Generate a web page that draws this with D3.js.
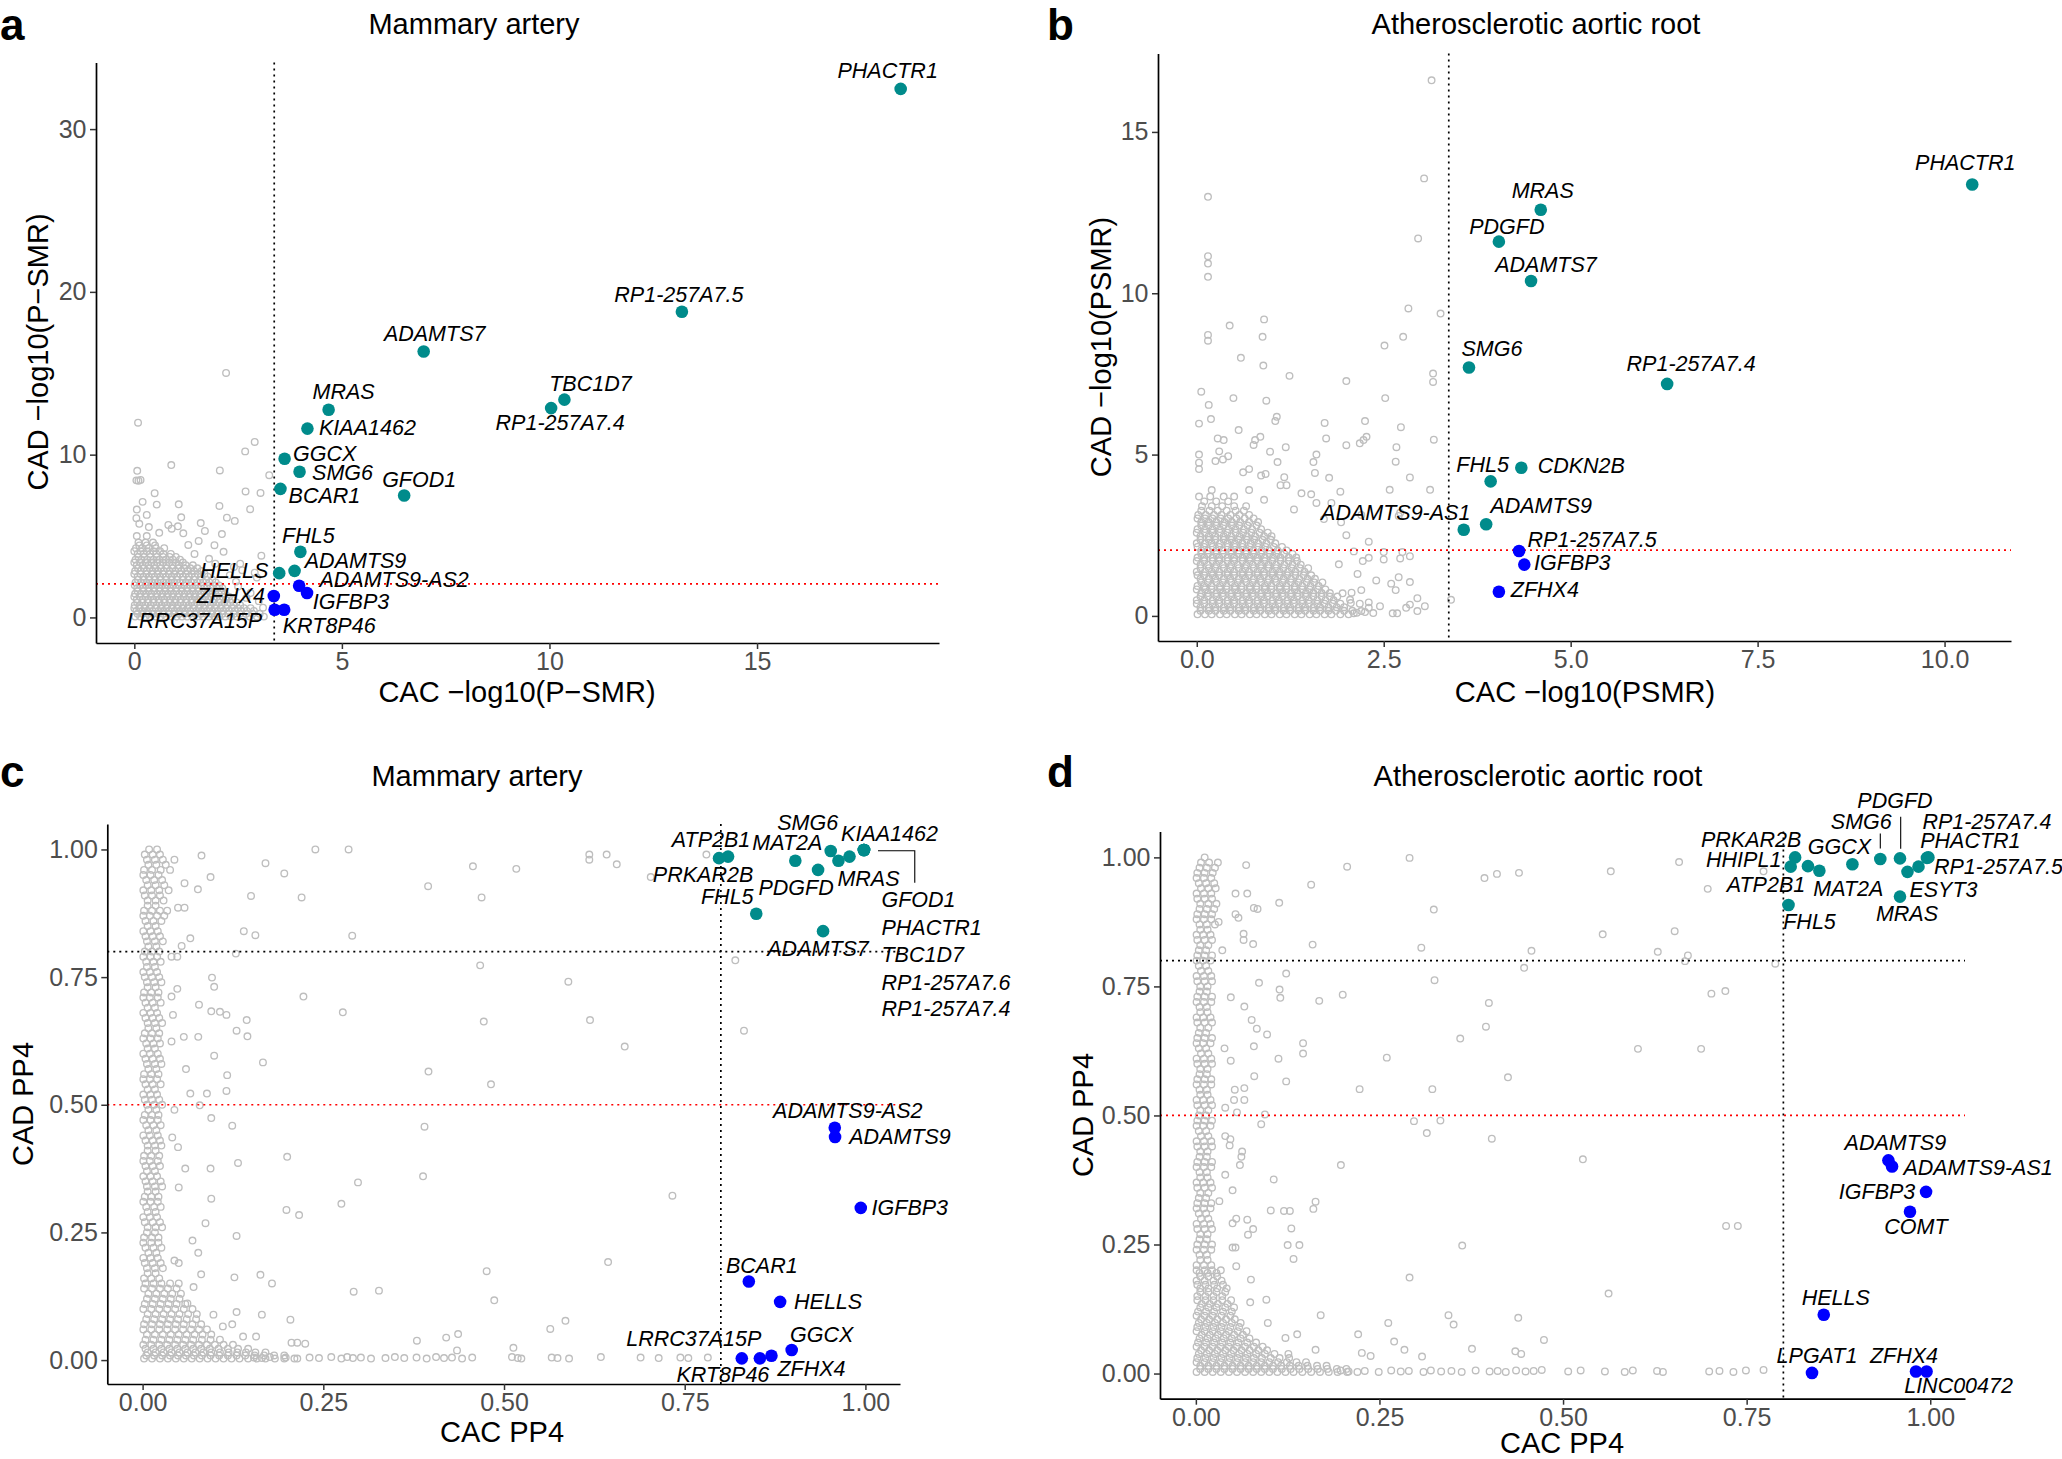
<!DOCTYPE html>
<html><head><meta charset="utf-8">
<script src="https://cdn.jsdelivr.net/npm/d3@7"></script>
<style>
body{margin:0;background:#fff}
svg{display:block;font-family:"Liberation Sans",Arial,Helvetica,sans-serif}
</style></head>
<body><svg id="chart" width="2062" height="1459"></svg>
<script>
// ---------------- DATA ----------------
// Highlighted genes: [gene, x, y, group]  group: "both" (teal) / "cac" (blue)
const hitsA = [
 ["PHACTR1",18.46,32.47,"both"],["RP1-257A7.5",13.19,18.78,"both"],["ADAMTS7",6.97,16.34,"both"],
 ["TBC1D7",10.36,13.38,"both"],["RP1-257A7.4",10.04,12.86,"both"],["MRAS",4.68,12.76,"both"],
 ["KIAA1462",4.17,11.6,"both"],["GGCX",3.62,9.75,"both"],["SMG6",3.98,8.95,"both"],
 ["BCAR1",3.52,7.9,"both"],["GFOD1",6.5,7.49,"both"],["FHL5",4.0,4.03,"both"],
 ["ADAMTS9",3.86,2.86,"both"],["HELLS",3.49,2.72,"both"],["ADAMTS9-AS2",3.97,1.95,"cac"],
 ["IGFBP3",4.16,1.5,"cac"],["ZFHX4",3.36,1.32,"cac"],["LRRC37A15P",3.38,0.47,"cac"],["KRT8P46",3.61,0.47,"cac"]
];
const hitsB = [
 ["PHACTR1",10.37,13.37,"both"],["MRAS",4.6,12.59,"both"],["PDGFD",4.04,11.6,"both"],
 ["ADAMTS7",4.47,10.38,"both"],["SMG6",3.64,7.7,"both"],["RP1-257A7.4",6.29,7.19,"both"],
 ["CDKN2B",4.34,4.59,"both"],["FHL5",3.93,4.17,"both"],["ADAMTS9",3.87,2.84,"both"],
 ["ADAMTS9-AS1",3.57,2.67,"both"],["RP1-257A7.5",4.31,2.01,"cac"],["IGFBP3",4.38,1.59,"cac"],["ZFHX4",4.04,0.75,"cac"]
];
const hitsC = [
 ["ATP2B1",0.81,0.986,"both"],["PRKAR2B",0.7975,0.983,"both"],["MAT2A",0.903,0.978,"both"],
 ["PDGFD",0.9345,0.96,"both"],["SMG6",0.952,0.997,"both"],["MRAS",0.9627,0.978,"both"],
 ["KIAA1462",0.978,0.986,"both"],["GFOD1",0.998,0.999,"both"],["PHACTR1",0.998,0.999,"both"],
 ["TBC1D7",0.998,0.999,"both"],["RP1-257A7.6",0.998,0.999,"both"],["RP1-257A7.4",0.998,0.999,"both"],
 ["FHL5",0.849,0.874,"both"],["ADAMTS7",0.9414,0.84,"both"],
 ["ADAMTS9-AS2",0.9576,0.455,"cac"],["ADAMTS9",0.958,0.437,"cac"],["IGFBP3",0.9936,0.298,"cac"],
 ["BCAR1",0.8387,0.154,"cac"],["HELLS",0.882,0.114,"cac"],["GGCX",0.898,0.0198,"cac"],
 ["LRRC37A15P",0.829,0.0034,"cac"],["KRT8P46",0.854,0.0034,"cac"],["ZFHX4",0.870,0.0086,"cac"]
];
const hitsD = [
 ["PRKAR2B",0.816,1.0,"both"],["HHIPL1",0.81,0.982,"both"],["ATP2B1",0.8335,0.983,"both"],
 ["MAT2A",0.849,0.974,"both"],["GGCX",0.894,0.9866,"both"],["SMG6",0.932,0.997,"both"],
 ["PDGFD",0.9588,0.998,"both"],["ESYT3",0.969,0.972,"both"],["RP1-257A7.5",0.984,0.982,"both"],
 ["PHACTR1",0.9975,1.0,"both"],["RP1-257A7.4",0.9955,0.999,"both"],["MRAS",0.9588,0.924,"both"],
 ["FHL5",0.807,0.9077,"both"],
 ["ADAMTS9",0.943,0.413,"cac"],["ADAMTS9-AS1",0.948,0.401,"cac"],["IGFBP3",0.9943,0.352,"cac"],
 ["COMT",0.9724,0.3135,"cac"],["HELLS",0.855,0.114,"cac"],["LPGAT1",0.839,0.0012,"cac"],
 ["ZFHX4",0.9806,0.004,"cac"],["LINC00472",0.995,0.004,"cac"]
];

// Background (gray) genes: scattered points [x,y]
const grayA = [
 [2.21,15.02],[0.09,11.96],[2.9,10.78],[2.67,10.2],[0.89,9.36],[0.07,9.01],[0.05,8.42],[0.1,8.4],[0.15,8.45],
 [2.06,9.03],[3.25,8.74],[0.49,7.63],[2.68,7.74],[3.04,7.65],[0.54,6.93],[1.07,6.95],[2.05,6.85],[2.79,6.65],
 [0.06,6.63],[1.13,6.15],[2.23,6.13],[2.42,5.93],[0.05,6.1],[0.12,5.75],[0.35,5.55],[0.82,5.68],[1.05,5.6],
 [0.9,5.45],[1.7,5.31],[1.18,5.17],[2.11,5.12],[1.93,4.44],[2.15,4.03],[3.06,3.79],[2.9,2.75],[2.95,2.45],
 [1.55,4.7],[1.3,4.45],[0.6,5.2],[1.45,3.9],[1.8,3.6],[2.4,3.1],[2.6,2.9],[2.5,1.9],[2.8,1.5],[3.0,1.0],
 [3.1,0.6],[2.55,3.3],[0.3,6.3],[0.2,7.1],[1.6,5.8],[2.3,2.6],[2.7,1.2],[2.45,2.2],[1.95,3.3]
];
// Dense core, one row per y level: [y, x1, x2, ...]
const coreA = [
 [0.05,0.02,0.14,0.27,0.38,0.52,0.63,0.77,0.9,1.02,1.15,1.27,1.41,1.53,1.66,1.8,1.93,2.05,2.19,2.33,2.47,2.62,2.78,2.95,3.12],
 [0.22,0.08,0.2,0.33,0.45,0.57,0.7,0.83,0.96,1.08,1.21,1.34,1.47,1.6,1.73,1.86,1.99,2.12,2.26,2.4,2.54,2.69,2.85,3.02],
 [0.4,0.05,0.19,0.31,0.44,0.58,0.7,0.83,0.97,1.09,1.22,1.35,1.49,1.61,1.75,1.88,2.01,2.14,2.28,2.42,2.57,2.71,2.88],
 [0.57,0.0,0.12,0.25,0.37,0.51,0.64,0.77,0.9,1.03,1.16,1.28,1.42,1.55,1.68,1.81,1.94,2.08,2.21,2.35,2.49,2.64,2.8],
 [0.75,0.01,0.13,0.26,0.4,0.53,0.66,0.79,0.92,1.05,1.18,1.31,1.44,1.58,1.7,1.84,1.97,2.1,2.24,2.39,2.55],
 [0.92,0.07,0.19,0.33,0.46,0.6,0.73,0.86,0.98,1.11,1.25,1.38,1.51,1.64,1.77,1.9,2.04,2.17,2.31,2.46],
 [1.1,0.06,0.2,0.33,0.46,0.59,0.72,0.86,0.99,1.12,1.25,1.39,1.51,1.65,1.78,1.92,2.06,2.2,2.36],
 [1.27,0.0,0.13,0.27,0.4,0.53,0.66,0.79,0.92,1.05,1.19,1.32,1.45,1.58,1.71,1.85,1.99,2.13,2.28],
 [1.45,0.02,0.15,0.28,0.41,0.55,0.68,0.81,0.94,1.08,1.21,1.34,1.47,1.6,1.74,1.88,2.03,2.18],
 [1.62,0.08,0.22,0.35,0.48,0.61,0.75,0.88,1.01,1.14,1.28,1.41,1.54,1.67,1.81,1.95,2.1],
 [1.8,0.07,0.21,0.34,0.47,0.6,0.74,0.87,1.0,1.14,1.27,1.4,1.54,1.68,1.83,1.99,2.12],
 [1.97,0.01,0.14,0.28,0.41,0.54,0.67,0.8,0.94,1.07,1.2,1.34,1.47,1.61,1.75,1.9,2.04],
 [2.15,0.03,0.16,0.29,0.43,0.56,0.7,0.83,0.96,1.1,1.24,1.37,1.52,1.66,1.81,1.96],
 [2.32,0.09,0.23,0.36,0.5,0.63,0.77,0.9,1.03,1.17,1.3,1.44,1.59,1.73,1.88],
 [2.5,0.08,0.22,0.35,0.49,0.62,0.76,0.9,1.03,1.17,1.31,1.46,1.6,1.77],
 [2.67,0.0,0.15,0.29,0.42,0.56,0.69,0.83,0.96,1.1,1.24,1.38,1.53,1.69],
 [2.85,0.02,0.15,0.3,0.44,0.57,0.71,0.85,0.99,1.13,1.28,1.44,1.62],
 [3.02,0.09,0.23,0.37,0.51,0.64,0.78,0.92,1.06,1.2,1.35,1.52],
 [3.2,0.06,0.2,0.34,0.48,0.63,0.77,0.92,1.07,1.24,1.41],
 [3.37,0.0,0.14,0.27,0.41,0.55,0.69,0.84,1.0,1.17],
 [3.55,0.03,0.17,0.31,0.46,0.6,0.76,0.93,1.1],
 [3.72,0.1,0.24,0.39,0.54,0.69,0.85,1.0],
 [3.9,0.08,0.22,0.38,0.53,0.7,0.88],
 [4.07,0.0,0.15,0.3,0.46,0.62],
 [4.25,0.04,0.19,0.35,0.52,0.72],
 [4.42,0.12,0.3,0.5],
 [4.6,0.1,0.27,0.45],
 [5.0,0.06,0.3]
];
const grayB = [
 [3.14,16.6],[3.04,13.56],[2.96,11.7],[0.15,12.99],[0.15,11.15],[0.15,10.92],[0.15,10.51],[2.83,9.53],[3.26,9.37],
 [0.44,9.0],[0.9,9.19],[0.15,8.71],[0.15,8.53],[0.88,8.65],[2.76,8.65],[2.51,8.38],[0.59,8.0],[0.89,7.76],
 [1.24,7.44],[2.0,7.28],[3.16,7.51],[3.16,7.25],[0.06,6.95],[0.49,6.75],[0.93,6.67],[0.16,6.54],[2.52,6.75],
 [1.07,6.17],[1.05,6.04],[0.19,6.1],[0.03,5.96],[1.71,5.98],[2.25,6.04],[2.73,5.85],[0.56,5.76],[0.85,5.55],
 [0.78,5.45],[0.76,5.3],[1.73,5.5],[0.28,5.5],[0.36,5.45],[2.0,5.29],[2.18,5.35],[2.23,5.45],[2.27,5.55],
 [3.17,5.46],[2.67,5.23],[1.19,5.23],[0.98,5.09],[0.3,5.1],[0.42,4.95],[0.35,4.85],[0.25,4.8],[0.03,5.0],
 [0.03,4.75],[0.03,4.55],[1.6,5.0],[1.56,4.77],[2.66,4.78],[1.08,4.77],[0.7,4.55],[0.92,4.4],[0.86,4.35],
 [0.62,4.45],[1.58,4.43],[1.77,4.28],[1.17,4.3],[1.12,4.05],[1.2,4.05],[2.85,4.29],[2.58,3.91],[3.12,3.91],
 [1.53,3.77],[1.92,3.85],[2.2,3.13],[2.7,3.1],[2.72,3.2],[1.8,3.5],[1.93,2.9],[2.5,1.98],[2.75,1.98],[2.85,1.85],
 [2.22,1.7],[2.3,1.8],[2.5,1.75],[2.72,1.78],[2.6,1.0],[2.7,1.2],[2.85,1.05],[2.66,0.8],[2.95,0.55],[2.85,0.35],
 [3.05,0.3],[2.8,0.25],[2.95,0.15],[3.4,0.5],[2.45,0.3],[2.3,0.25],[2.2,0.15],[2.1,0.08],[2.62,0.08],[2.68,0.08],
 [1.4,3.8],[1.6,3.5],[1.3,3.3],[1.7,3.0],[2.0,2.5],[2.3,2.3],[2.1,2.0],[1.9,1.6],[2.15,1.3],[2.4,1.1],[2.2,0.8],
 [2.05,0.5],[0.9,3.6],[0.5,3.7],[0.2,3.9],[0.7,3.9],[2.14,0.1],[2.25,0.12],[2.36,0.09],[2.06,0.4],[2.18,0.38],
 [2.3,0.42],[1.95,0.7],[2.07,0.72]
];
const coreB = [
 [0.05,0.01,0.11,0.2,0.31,0.4,0.51,0.6,0.71,0.8,0.91,1.0,1.11,1.2,1.31,1.4,1.51,1.6,1.71,1.8,1.92,2.03],
 [0.16,0.05,0.16,0.25,0.36,0.45,0.56,0.65,0.76,0.85,0.96,1.05,1.16,1.25,1.36,1.45,1.56,1.65,1.76,1.86,1.97,2.08],
 [0.27,0.05,0.16,0.25,0.36,0.45,0.56,0.65,0.76,0.85,0.96,1.05,1.16,1.25,1.36,1.45,1.56,1.65,1.76,1.87,1.97],
 [0.38,0.0,0.1,0.21,0.3,0.41,0.5,0.61,0.7,0.81,0.9,1.01,1.1,1.21,1.3,1.41,1.5,1.61,1.71,1.82,1.92],
 [0.49,0.0,0.1,0.21,0.3,0.41,0.5,0.61,0.7,0.81,0.9,1.01,1.1,1.21,1.3,1.41,1.5,1.61,1.72,1.83],
 [0.6,0.05,0.15,0.26,0.35,0.46,0.55,0.66,0.75,0.86,0.95,1.06,1.15,1.26,1.35,1.46,1.56,1.67,1.78,1.88],
 [0.71,0.06,0.15,0.26,0.35,0.46,0.55,0.66,0.75,0.86,0.95,1.06,1.15,1.26,1.35,1.46,1.56,1.67,1.78],
 [0.82,0.0,0.11,0.2,0.31,0.4,0.51,0.6,0.71,0.8,0.91,1.0,1.11,1.2,1.31,1.41,1.51,1.62,1.72],
 [0.93,0.01,0.1,0.2,0.31,0.4,0.51,0.6,0.71,0.8,0.91,1.0,1.11,1.2,1.31,1.41,1.52,1.63],
 [1.04,0.06,0.15,0.26,0.35,0.46,0.55,0.66,0.75,0.86,0.95,1.06,1.15,1.26,1.36,1.47,1.57,1.68],
 [1.15,0.05,0.16,0.25,0.36,0.45,0.56,0.65,0.76,0.85,0.96,1.05,1.16,1.26,1.37,1.48,1.58],
 [1.26,0.01,0.1,0.21,0.3,0.41,0.5,0.61,0.7,0.81,0.9,1.01,1.11,1.21,1.32,1.43,1.53],
 [1.37,0.0,0.11,0.2,0.3,0.41,0.5,0.61,0.7,0.81,0.9,1.01,1.11,1.22,1.32,1.44],
 [1.48,0.05,0.16,0.25,0.36,0.45,0.56,0.65,0.76,0.86,0.96,1.06,1.16,1.27,1.38,1.49],
 [1.59,0.05,0.15,0.26,0.35,0.46,0.55,0.66,0.75,0.86,0.96,1.06,1.17,1.28,1.39],
 [1.7,0.0,0.1,0.21,0.3,0.41,0.5,0.61,0.71,0.81,0.91,1.01,1.12,1.23,1.34],
 [1.81,0.01,0.1,0.21,0.3,0.41,0.5,0.61,0.71,0.81,0.91,1.02,1.12,1.23,1.33],
 [1.92,0.06,0.15,0.26,0.35,0.46,0.56,0.66,0.76,0.86,0.97,1.07,1.17,1.28],
 [2.03,0.06,0.15,0.26,0.35,0.46,0.56,0.66,0.76,0.87,0.97,1.08,1.2],
 [2.14,0.01,0.1,0.21,0.3,0.41,0.51,0.61,0.71,0.82,0.92,1.03,1.14],
 [2.25,0.0,0.11,0.2,0.31,0.41,0.51,0.61,0.72,0.82,0.93,1.05],
 [2.36,0.05,0.16,0.25,0.36,0.46,0.56,0.67,0.77,0.88,0.99],
 [2.47,0.05,0.16,0.25,0.36,0.46,0.57,0.67,0.78,0.9,1.0],
 [2.58,0.0,0.11,0.21,0.31,0.41,0.52,0.62,0.73,0.84,0.95],
 [2.69,0.01,0.11,0.21,0.31,0.42,0.52,0.63,0.74,0.86],
 [2.8,0.06,0.16,0.26,0.36,0.47,0.57,0.68,0.8],
 [2.91,0.06,0.16,0.26,0.37,0.47,0.58,0.7,0.82],
 [3.02,0.01,0.11,0.21,0.32,0.42,0.53,0.64,0.76],
 [3.13,0.02,0.12,0.23,0.33,0.45,0.57,0.7],
 [3.26,0.06,0.17,0.28,0.4,0.52,0.63],
 [3.4,0.07,0.2,0.34,0.5,0.66],
 [3.55,0.1,0.26,0.42],
 [3.7,0.03,0.18,0.36]
];
const grayC = [
 [0.239,1.0],[0.285,1.0],[0.0815,0.988],[0.044,0.98],[0.17,0.973],[0.196,0.953],[0.094,0.946],[0.058,0.934],
 [0.0765,0.922],[0.15,0.909],[0.22,0.906],[0.049,0.886],[0.058,0.886],[0.14,0.84],[0.156,0.832],[0.29,0.831],
 [0.066,0.826],[0.054,0.811],[0.04,0.79],[0.048,0.79],[0.129,0.796],[0.395,0.928],[0.457,0.967],[0.517,0.962],
 [0.469,0.906],[0.618,0.99],[0.618,0.98],[0.642,0.99],[0.656,0.971],[0.703,0.946],[0.78,0.99],[0.82,0.783],
 [0.467,0.773],[0.589,0.741],[0.096,0.749],[0.099,0.731],[0.048,0.727],[0.04,0.712],[0.2225,0.712],[0.078,0.696],
 [0.095,0.683],[0.107,0.682],[0.116,0.676],[0.042,0.676],[0.277,0.681],[0.144,0.666],[0.472,0.663],[0.619,0.666],
 [0.13,0.645],[0.145,0.634],[0.057,0.633],[0.077,0.633],[0.04,0.624],[0.667,0.614],[0.099,0.596],[0.1665,0.583],
 [0.06,0.57],[0.117,0.558],[0.3955,0.565],[0.482,0.54],[0.066,0.522],[0.089,0.522],[0.116,0.527],[0.832,0.645],
 [0.079,0.499],[0.044,0.49],[0.095,0.474],[0.124,0.459],[0.39,0.457],[0.041,0.436],[0.049,0.417],[0.2,0.398],
 [0.132,0.386],[0.059,0.375],[0.094,0.375],[0.298,0.348],[0.388,0.36],[0.05,0.338],[0.733,0.322],[0.095,0.316],
 [0.275,0.306],[0.199,0.294],[0.2165,0.284],[0.087,0.268],[0.13,0.243],[0.069,0.234],[0.077,0.21],[0.044,0.195],
 [0.05,0.19],[0.644,0.192],[0.081,0.168],[0.127,0.162],[0.163,0.167],[0.179,0.15],[0.0705,0.143],[0.476,0.174],
 [0.292,0.134],[0.327,0.136],[0.4865,0.117],[0.062,0.111],[0.098,0.089],[0.13,0.094],[0.165,0.089],[0.2045,0.079],
 [0.124,0.07],[0.111,0.066],[0.139,0.046],[0.157,0.046],[0.585,0.077],[0.564,0.061],[0.4365,0.051],[0.42,0.044],
 [0.3795,0.038],[0.206,0.034],[0.214,0.034],[0.225,0.032],[0.513,0.024],[0.435,0.019],
 [0.154,0.005],[0.165,0.004],[0.176,0.006],[0.198,0.005],[0.214,0.003],[0.231,0.005],[0.244,0.004],[0.261,0.006],
 [0.275,0.003],[0.283,0.006],[0.291,0.004],[0.302,0.005],[0.316,0.003],[0.336,0.004],[0.349,0.006],[0.362,0.004],
 [0.379,0.005],[0.393,0.003],[0.406,0.006],[0.417,0.004],[0.428,0.005],[0.442,0.003],[0.456,0.005],[0.511,0.006],
 [0.519,0.004],[0.524,0.003],[0.566,0.005],[0.574,0.004],[0.59,0.003],[0.634,0.006],[0.689,0.005],[0.714,0.004],
 [0.744,0.005],[0.755,0.004],[0.782,0.005]
];
const coreC = [
 [0.003,0.002,0.013,0.024,0.035,0.046,0.057,0.068,0.079,0.09,0.101,0.112,0.123,0.134,0.146,0.158,0.17,0.183,0.196,0.21],
 [0.009,0.005,0.016,0.027,0.038,0.049,0.06,0.071,0.082,0.094,0.106,0.118,0.13,0.142,0.155,0.168,0.182,0.196],
 [0.015,0.007,0.018,0.029,0.04,0.051,0.062,0.073,0.084,0.095,0.107,0.119,0.131,0.143,0.156,0.17],
 [0.022,0.004,0.015,0.026,0.037,0.048,0.059,0.07,0.081,0.093,0.105,0.118,0.132,0.146],
 [0.03,0.001,0.012,0.023,0.034,0.045,0.056,0.067,0.078,0.089,0.1,0.112,0.125],
 [0.04,0.004,0.015,0.026,0.037,0.048,0.059,0.07,0.082,0.094,0.107],
 [0.05,0.006,0.017,0.028,0.039,0.05,0.061,0.072,0.083,0.095],
 [0.06,0.001,0.012,0.023,0.034,0.045,0.056,0.067,0.078,0.089],
 [0.07,0.002,0.013,0.024,0.035,0.046,0.057,0.069,0.081],
 [0.08,0.005,0.016,0.027,0.038,0.049,0.061,0.074],
 [0.09,0.007,0.018,0.029,0.04,0.051,0.063,0.075],
 [0.1,0.001,0.012,0.023,0.034,0.045,0.057,0.069],
 [0.11,0.003,0.014,0.025,0.036,0.047,0.059],
 [0.12,0.006,0.017,0.028,0.039,0.051],
 [0.13,0.008,0.019,0.03,0.041,0.053],
 [0.14,0.002,0.013,0.024,0.035,0.047],
 [0.15,0.004,0.015,0.026,0.038,0.05],
 [0.16,0.002,0.012,0.023],[0.17,0.007,0.018],[0.18,0.006,0.017,0.028],[0.19,0.003,0.014,0.025],
 [0.2,0.001,0.011,0.021],[0.21,0.008,0.019],[0.22,0.004,0.015,0.026],[0.23,0.001,0.012,0.022],
 [0.24,0.002,0.013,0.022],[0.25,0.006,0.017],[0.26,0.007,0.018,0.027],[0.27,0.003,0.014,0.024],
 [0.28,0.001,0.01,0.02],[0.29,0.007,0.018],[0.3,0.005,0.016,0.025],[0.31,0.001,0.011,0.021],
 [0.32,0.003,0.012,0.022],[0.33,0.007,0.018],[0.34,0.006,0.017,0.027],[0.35,0.004,0.014,0.025],
 [0.36,0.001,0.011,0.02],[0.37,0.006,0.017],[0.38,0.004,0.014,0.024],[0.39,0.001,0.01,0.021],
 [0.4,0.002,0.012,0.023],[0.41,0.007,0.018],[0.42,0.007,0.017,0.026],[0.43,0.004,0.014,0.024],
 [0.44,0.001,0.01,0.021],[0.45,0.008,0.019],[0.46,0.005,0.015,0.025],[0.47,0.001,0.011,0.021],
 [0.48,0.003,0.013,0.022],[0.49,0.008,0.019],[0.5,0.006,0.016,0.027],[0.51,0.003,0.013,0.023],
 [0.52,0.001,0.011,0.02],[0.53,0.007,0.017],[0.54,0.004,0.014,0.025],[0.55,0.001,0.01,0.02],
 [0.56,0.002,0.012,0.022],[0.57,0.008,0.019],[0.58,0.006,0.017,0.026],[0.59,0.004,0.014,0.024],
 [0.6,0.001,0.01,0.021],[0.61,0.007,0.017],[0.62,0.005,0.015,0.024],[0.63,0.001,0.011,0.021],
 [0.64,0.003,0.013,0.023],[0.65,0.008,0.019],[0.66,0.007,0.017,0.027],[0.67,0.004,0.014,0.023],
 [0.68,0.001,0.011,0.02],[0.69,0.007,0.017],[0.7,0.004,0.014,0.025],[0.71,0.001,0.01,0.021],
 [0.72,0.002,0.012,0.022],[0.73,0.007,0.018],[0.74,0.006,0.016,0.026],[0.75,0.003,0.013,0.023],
 [0.76,0.001,0.01,0.02],[0.77,0.006,0.017],[0.78,0.005,0.015,0.025],[0.79,0.001,0.011,0.02],
 [0.8,0.003,0.013,0.023],[0.81,0.008,0.019],[0.82,0.006,0.017,0.028],[0.83,0.004,0.014,0.024],
 [0.84,0.001,0.011,0.021],[0.85,0.007,0.018],[0.86,0.004,0.015,0.026],[0.87,0.001,0.01,0.02,0.03],
 [0.88,0.002,0.013,0.024,0.034],[0.89,0.007,0.018],[0.9,0.007,0.018,0.029],[0.91,0.003,0.013,0.024],
 [0.92,0.001,0.012,0.023,0.036],[0.93,0.007,0.018,0.03],[0.94,0.005,0.016,0.027],[0.95,0.001,0.011,0.022],
 [0.96,0.002,0.013,0.025,0.038],[0.97,0.008,0.019,0.032],[0.98,0.006,0.017,0.028],[0.99,0.003,0.014,0.024],
 [1.0,0.009,0.02]
];
const grayD = [
 [0.0685,0.985],[0.206,0.982],[0.291,0.999],[0.157,0.947],[0.1135,0.912],[0.054,0.93],[0.07,0.93],[0.079,0.902],
 [0.084,0.9],[0.054,0.89],[0.058,0.883],[0.031,0.875],[0.065,0.852],[0.065,0.84],[0.078,0.832],[0.036,0.82],
 [0.159,0.831],[0.324,0.899],[0.307,0.825],[0.393,0.96],[0.41,0.968],[0.44,0.97],[0.565,0.973],[0.457,0.819],
 [0.447,0.786],[0.554,0.851],[0.652,0.857],[0.629,0.817],[0.658,0.991],[0.67,0.81],[0.666,0.799],[0.697,0.939],
 [0.773,0.973],[0.789,0.794],[0.702,0.736],[0.721,0.741],[0.325,0.762],[0.399,0.718],[0.395,0.672],[0.36,0.649],
 [0.26,0.612],[0.425,0.574],[0.602,0.629],[0.688,0.629],[0.223,0.551],[0.322,0.551],[0.086,0.757],[0.114,0.744],
 [0.115,0.728],[0.168,0.722],[0.2,0.734],[0.123,0.775],[0.0476,0.729],[0.066,0.711],[0.076,0.685],[0.083,0.668],
 [0.097,0.657],[0.146,0.64],[0.146,0.62],[0.079,0.634],[0.1125,0.61],[0.039,0.63],[0.0475,0.606],[0.0795,0.576],
 [0.123,0.566],[0.053,0.55],[0.066,0.553],[0.052,0.53],[0.066,0.53],[0.04,0.515],[0.056,0.506],[0.094,0.502],
 [0.089,0.483],[0.297,0.489],[0.333,0.49],[0.3145,0.466],[0.403,0.455],[0.04,0.46],[0.047,0.454],[0.046,0.442],
 [0.063,0.43],[0.062,0.42],[0.06,0.404],[0.1975,0.404],[0.527,0.415],[0.04,0.385],[0.106,0.376],[0.05,0.355],
 [0.032,0.334],[0.102,0.316],[0.12,0.315],[0.128,0.315],[0.16,0.319],[0.163,0.333],[0.05,0.291],[0.055,0.3],
 [0.07,0.298],[0.071,0.269],[0.078,0.28],[0.13,0.281],[0.722,0.286],[0.738,0.286],[0.125,0.249],[0.141,0.249],
 [0.133,0.222],[0.3627,0.248],[0.05,0.244],[0.054,0.244],[0.055,0.208],[0.075,0.182],[0.291,0.186],[0.096,0.143],
 [0.074,0.138],[0.562,0.155],[0.098,0.098],[0.17,0.113],[0.262,0.098],[0.344,0.113],[0.351,0.095],[0.439,0.108],
 [0.221,0.076],[0.138,0.076],[0.122,0.069],[0.474,0.065],[0.27,0.062],[0.163,0.046],[0.126,0.038],[0.226,0.04],
 [0.238,0.034],[0.284,0.046],[0.308,0.033],[0.376,0.048],[0.435,0.043],[0.443,0.038],
 [0.197,0.006],[0.208,0.004],[0.23,0.005],[0.249,0.003],[0.266,0.006],[0.279,0.004],[0.29,0.005],[0.31,0.003],
 [0.32,0.006],[0.334,0.004],[0.348,0.005],[0.362,0.003],[0.381,0.006],[0.4,0.004],[0.411,0.005],[0.422,0.003],
 [0.436,0.006],[0.449,0.004],[0.46,0.005],[0.471,0.007],[0.507,0.004],[0.524,0.006],[0.557,0.004],[0.584,0.003],
 [0.595,0.006],[0.628,0.005],[0.636,0.003],[0.699,0.004],[0.713,0.005],[0.732,0.003],[0.749,0.006],[0.773,0.007]
];
const coreD = [
 [0.003,0.001,0.012,0.023,0.034,0.045,0.056,0.067,0.078,0.089,0.1,0.111,0.122,0.133,0.145,0.157,0.169,0.181,0.193,0.206,0.22],
 [0.009,0.006,0.017,0.028,0.039,0.05,0.061,0.072,0.083,0.094,0.105,0.117,0.129,0.141,0.153,0.166,0.179,0.192,0.205],
 [0.015,0.006,0.017,0.028,0.039,0.05,0.061,0.072,0.083,0.094,0.105,0.116,0.128,0.14,0.152,0.165,0.178],
 [0.022,0.001,0.012,0.023,0.034,0.045,0.056,0.067,0.078,0.089,0.1,0.112,0.124,0.137,0.15],
 [0.03,0.002,0.013,0.024,0.035,0.046,0.057,0.068,0.079,0.09,0.102,0.114,0.127],
 [0.038,0.004,0.015,0.026,0.037,0.048,0.059,0.07,0.082,0.094,0.107],
 [0.045,0.007,0.018,0.029,0.04,0.051,0.062,0.073,0.085,0.097],
 [0.052,0.001,0.012,0.023,0.034,0.045,0.056,0.067,0.079,0.091],
 [0.06,0.003,0.014,0.025,0.036,0.047,0.058,0.07,0.082],
 [0.068,0.005,0.016,0.027,0.038,0.049,0.061,0.073],
 [0.075,0.008,0.019,0.03,0.041,0.052,0.064],
 [0.082,0.001,0.012,0.023,0.034,0.045,0.057,0.069],
 [0.09,0.002,0.013,0.024,0.035,0.047,0.059],
 [0.098,0.004,0.015,0.026,0.037,0.049,0.061],
 [0.105,0.007,0.018,0.029,0.041,0.053],
 [0.112,0.001,0.012,0.023,0.035,0.047],
 [0.12,0.003,0.014,0.025,0.037,0.049],
 [0.128,0.006,0.017,0.028,0.04,0.052],
 [0.135,0.008,0.019,0.03,0.043],
 [0.142,0.002,0.013,0.024,0.036,0.048],
 [0.15,0.002,0.013,0.024,0.036],
 [0.158,0.006,0.017,0.028,0.04],
 [0.165,0.006,0.017,0.029,0.042],
 [0.172,0.002,0.013,0.025,0.037],
 [0.18,0.001,0.012,0.024,0.035],
 [0.188,0.006,0.017,0.029],
 [0.195,0.005,0.016,0.028],
 [0.2,0.001,0.012,0.022,0.034],
 [0.21,0.001,0.011,0.021],[0.22,0.006,0.016],[0.23,0.005,0.015],[0.24,0.001,0.011,0.021],
 [0.25,0.002,0.012,0.022],[0.26,0.005,0.015],[0.27,0.006,0.016],[0.28,0.002,0.012,0.022],
 [0.29,0.001,0.011,0.02],[0.3,0.007,0.017],[0.31,0.004,0.014],[0.32,0.001,0.011,0.02],
 [0.33,0.002,0.012,0.021],[0.34,0.004,0.014],[0.35,0.006,0.017],[0.36,0.002,0.012,0.022],
 [0.37,0.001,0.01,0.02],[0.38,0.006,0.016],[0.39,0.005,0.015],[0.4,0.001,0.011,0.021],
 [0.41,0.002,0.012,0.022],[0.42,0.005,0.015],[0.43,0.006,0.016],[0.44,0.002,0.012,0.022],
 [0.45,0.001,0.011,0.021],[0.46,0.007,0.017],[0.47,0.004,0.014],[0.48,0.001,0.01,0.02],
 [0.49,0.002,0.012,0.022],[0.5,0.004,0.014],[0.51,0.006,0.017],[0.52,0.002,0.012,0.022],
 [0.53,0.001,0.01,0.02],[0.54,0.006,0.016],[0.55,0.005,0.015],[0.56,0.001,0.011,0.021],
 [0.57,0.002,0.012,0.021],[0.58,0.005,0.015],[0.59,0.006,0.016],[0.6,0.002,0.012,0.022],
 [0.61,0.001,0.011,0.021],[0.62,0.007,0.017],[0.63,0.004,0.014],[0.64,0.001,0.01,0.02],
 [0.65,0.002,0.012,0.022],[0.66,0.004,0.014],[0.67,0.006,0.017],[0.68,0.002,0.012,0.022],
 [0.69,0.001,0.01,0.02],[0.7,0.006,0.016],[0.71,0.005,0.015],[0.72,0.001,0.011,0.021],
 [0.73,0.002,0.012,0.022],[0.74,0.005,0.015],[0.75,0.006,0.016],[0.76,0.002,0.012,0.022],
 [0.77,0.001,0.011,0.021],[0.78,0.007,0.017],[0.79,0.004,0.014],[0.8,0.001,0.01,0.02],
 [0.81,0.002,0.012,0.022],[0.82,0.004,0.014],[0.83,0.006,0.017],[0.84,0.002,0.012,0.022],
 [0.85,0.001,0.01,0.02],[0.86,0.006,0.016],[0.87,0.005,0.015,0.026],[0.88,0.001,0.011,0.021],
 [0.89,0.002,0.012,0.022],[0.9,0.005,0.015,0.025],[0.91,0.006,0.017,0.028],[0.92,0.002,0.012,0.022],
 [0.93,0.001,0.011,0.021],[0.94,0.007,0.017,0.027],[0.95,0.004,0.014,0.025],[0.96,0.001,0.011,0.021],
 [0.97,0.002,0.012,0.023],[0.98,0.005,0.015,0.026],[0.99,0.007,0.018,0.03],[1.0,0.012]
];

// tick values
const ticksAx = [0,5,10,15], ticksAy = [0,10,20,30];
const ticksBx = [0,2.5,5,7.5,10], ticksBy = [0,5,10,15];
const ticksPP = [0,0.25,0.5,0.75,1];

// ---------------- LAYOUT (label nudges in px, relative to point) ----------------
const nudgeA = {"PHACTR1":[-13,-18],"RP1-257A7.5":[-3,-17],"ADAMTS7":[11,-17],"TBC1D7":[26,-16],"RP1-257A7.4":[9,15],
 "MRAS":[15,-18],"KIAA1462":[60,-1],"GGCX":[40,-5],"SMG6":[43,1],"BCAR1":[44,7],"GFOD1":[15,-16],"FHL5":[8,-16],
 "ADAMTS9":[61,-10],"HELLS":[-45,-2],"ADAMTS9-AS2":[95,-6],"IGFBP3":[44,9],"ZFHX4":[-43,0],"LRRC37A15P":[-80,11],"KRT8P46":[45,16]};
const nudgeB = {"PHACTR1":[-7,-22],"MRAS":[2,-19],"PDGFD":[8,-15],"ADAMTS7":[15,-16],"SMG6":[23,-18],"RP1-257A7.4":[24,-20],
 "CDKN2B":[60,-2],"FHL5":[-8,-16],"ADAMTS9":[55,-18],"ADAMTS9-AS1":[-68,-17],"RP1-257A7.5":[73,-11],"IGFBP3":[48,-2],"ZFHX4":[46,-2]};
const nudgeC = {"ATP2B1":[-17,-17],"PRKAR2B":[-16,17],"MAT2A":[-8,-18],"PDGFD":[-22,18],"SMG6":[-23,-28],"MRAS":[30,18],
 "KIAA1462":[40,-23],"GFOD1":[17.5,50.4,"start"],"PHACTR1":[17.5,77.8,"start"],"TBC1D7":[17.5,105.4,"start"],
 "RP1-257A7.6":[17.5,132.8,"start"],"RP1-257A7.4":[17.5,159.4,"start"],"FHL5":[-29,-17],"ADAMTS7":[-5,18],
 "ADAMTS9-AS2":[13,-17],"ADAMTS9":[65,0],"IGFBP3":[49,0],"BCAR1":[13,-15],"HELLS":[48,0],"GGCX":[30,-15],
 "LRRC37A15P":[-48,-19],"KRT8P46":[-37,17],"ZFHX4":[40,13]};
const nudgeD = {"PRKAR2B":[-44,-17],"HHIPL1":[-47,-7],"ATP2B1":[-42,19],"MAT2A":[29,18],"GGCX":[-13,-17],"SMG6":[-19,-37],
 "PDGFD":[-5,-57],"ESYT3":[36,18],"RP1-257A7.5":[80,0],"PHACTR1":[42,-16],"RP1-257A7.4":[60,-36],"MRAS":[7,17],
 "FHL5":[21,17],"ADAMTS9":[7,-17],"ADAMTS9-AS1":[86,1],"IGFBP3":[-49,0],"COMT":[6,15],"HELLS":[12,-17],
 "LPGAT1":[5,-17],"ZFHX4":[-12,-15],"LINC00472":[32,15]};
// leader segments (px offsets from point)
const leadersC = {"GFOD1":[[14,0.8],[50.8,0.8],[50.8,32.8]]};
const leadersD = {"SMG6":[[0,-10.5],[0,-25.5]],"PDGFD":[[0.7,-9.6],[0.7,-41.6]]};

const panels = [
 {letter:"a",lx:0,ly:40,title:"Mammary artery",tx:474,ty:34,xlab:"CAC \u2212log10(P\u2212SMR)",ylab:"CAD \u2212log10(P\u2212SMR)",
  box:{l:96,r:939,t:62.5,b:643},xt:ticksAx,yt:ticksAy,fx:d3.format("d"),fy:d3.format("d"),
  xlx:517,xly:702,ylx:38,yly:352,vline:3.37,hblack:null,hred:2.06,gray:grayA,core:coreA,hits:hitsA,nudge:nudgeA,leaders:{}},
 {letter:"b",lx:1047,ly:40,title:"Atherosclerotic aortic root",tx:1536,ty:34,xlab:"CAC \u2212log10(PSMR)",ylab:"CAD \u2212log10(PSMR)",
  box:{l:1158,r:2011,t:53.6,b:641},xt:ticksBx,yt:ticksBy,fx:d3.format(".1f"),fy:d3.format("d"),
  xlx:1585,xly:702,ylx:1101,yly:347,vline:3.37,hblack:null,hred:2.04,gray:grayB,core:coreB,hits:hitsB,nudge:nudgeB,leaders:{}},
 {letter:"c",lx:0,ly:787,title:"Mammary artery",tx:477,ty:786,xlab:"CAC PP4",ylab:"CAD PP4",
  box:{l:107.3,r:900,t:824,b:1384},xt:ticksPP,yt:ticksPP,fx:d3.format(".2f"),fy:d3.format(".2f"),
  xlx:502,xly:1442,ylx:23,yly:1104,vline:0.8,hblack:0.8,hred:0.5,gray:grayC,core:coreC,hits:hitsC,nudge:nudgeC,leaders:leadersC},
 {letter:"d",lx:1047,ly:787,title:"Atherosclerotic aortic root",tx:1538,ty:786,xlab:"CAC PP4",ylab:"CAD PP4",
  box:{l:1160,r:1965,t:831.6,b:1398.7},xt:ticksPP,yt:ticksPP,fx:d3.format(".2f"),fy:d3.format(".2f"),
  xlx:1562,xly:1453,ylx:1083,yly:1115,vline:0.8,hblack:0.8,hred:0.5,gray:grayD,core:coreD,hits:hitsD,nudge:nudgeD,leaders:leadersD}
];

const COL = {both:"#008B8B", cac:"#0000FF"};
const svg = d3.select("#chart");

panels.forEach(p => {
  const corePts = [];
  p.core.forEach(row => row.slice(1).forEach(xv => corePts.push([xv,row[0]])));
  const grayPts = corePts.concat(p.gray);
  const all = grayPts.concat(p.hits.map(h=>[h[1],h[2]]));
  const xe = d3.extent(all,d=>d[0]), ye = d3.extent(all,d=>d[1]);
  const xp = (xe[1]-xe[0])*0.05, yp = (ye[1]-ye[0])*0.05;
  const x = d3.scaleLinear().domain([xe[0]-xp, xe[1]+xp]).range([p.box.l,p.box.r]);
  const y = d3.scaleLinear().domain([ye[0]-yp, ye[1]+yp]).range([p.box.b,p.box.t]);
  const g = svg.append("g");

  // gray background points
  g.append("g").selectAll("circle").data(grayPts).join("circle")
    .attr("cx",d=>x(d[0])).attr("cy",d=>y(d[1])).attr("r",3.3)
    .attr("fill","none").attr("stroke","#BEBEBE").attr("stroke-width",1.35);

  // reference lines
  const dash = "2,4";
  g.append("line").attr("x1",x(p.vline)).attr("x2",x(p.vline)).attr("y1",p.box.t).attr("y2",p.box.b)
    .attr("stroke","#000").attr("stroke-width",1.7).attr("stroke-dasharray",dash);
  if (p.hblack!==null) g.append("line").attr("x1",p.box.l).attr("x2",p.box.r).attr("y1",y(p.hblack)).attr("y2",y(p.hblack))
    .attr("stroke","#000").attr("stroke-width",1.7).attr("stroke-dasharray",dash);
  g.append("line").attr("x1",p.box.l).attr("x2",p.box.r).attr("y1",y(p.hred)).attr("y2",y(p.hred))
    .attr("stroke","#FF0000").attr("stroke-width",1.7).attr("stroke-dasharray",dash);

  // axes
  const ax = g.append("g").attr("transform",`translate(0,${p.box.b})`)
    .call(d3.axisBottom(x).tickValues(p.xt).tickFormat(p.fx).tickSize(6).tickSizeOuter(0).tickPadding(3.5));
  const ay = g.append("g").attr("transform",`translate(${p.box.l},0)`)
    .call(d3.axisLeft(y).tickValues(p.yt).tickFormat(p.fy).tickSize(6).tickSizeOuter(0).tickPadding(3.5));
  [ax,ay].forEach(a=>{
    a.select(".domain").attr("stroke","#000").attr("stroke-width",1.7);
    a.selectAll(".tick line").attr("stroke","#333").attr("stroke-width",1.5);
    a.selectAll(".tick text").attr("fill","#4D4D4D").attr("font-size",25).attr("font-family",null);
  });

  // leader segments
  p.hits.forEach(h=>{
    const L = p.leaders[h[0]];
    if (!L) return;
    const px = x(h[1]), py = y(h[2]);
    g.append("path").attr("d", d3.line()(L.map(o=>[px+o[0],py+o[1]])))
      .attr("fill","none").attr("stroke","#000").attr("stroke-width",1.1);
  });

  // highlighted points
  g.append("g").selectAll("circle").data(p.hits).join("circle")
    .attr("cx",d=>x(d[1])).attr("cy",d=>y(d[2])).attr("r",6.3).attr("fill",d=>COL[d[3]]);

  // labels
  g.append("g").selectAll("text").data(p.hits).join("text")
    .attr("x",d=>x(d[1])+p.nudge[d[0]][0]).attr("y",d=>y(d[2])+p.nudge[d[0]][1])
    .attr("text-anchor",d=>p.nudge[d[0]][2]||"middle").attr("dominant-baseline","central")
    .attr("font-style","italic").attr("font-size",21.5).attr("fill","#000").text(d=>d[0]);

  // titles
  svg.append("text").attr("x",p.tx).attr("y",p.ty).attr("text-anchor","middle").attr("font-size",29).attr("fill","#000").text(p.title);
  svg.append("text").attr("x",p.lx).attr("y",p.ly).attr("font-size",44).attr("font-weight","bold").attr("fill","#000").text(p.letter);
  svg.append("text").attr("x",p.xlx).attr("y",p.xly).attr("text-anchor","middle").attr("font-size",29).attr("fill","#000").text(p.xlab);
  svg.append("text").attr("transform",`translate(${p.ylx},${p.yly}) rotate(-90)`).attr("text-anchor","middle")
    .attr("dominant-baseline","central").attr("font-size",29).attr("fill","#000").text(p.ylab);
});
</script></body></html>
